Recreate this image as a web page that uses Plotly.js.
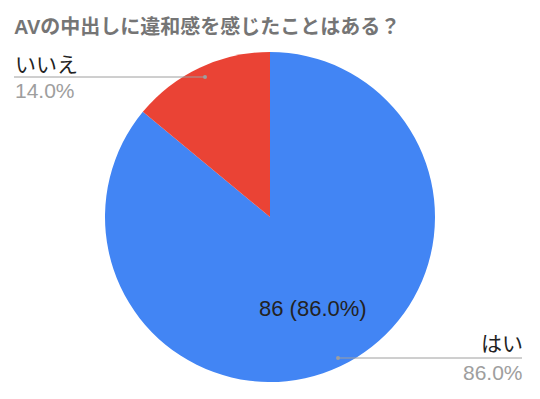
<!DOCTYPE html>
<html><head><meta charset="utf-8">
<script src="https://cdn.plot.ly/plotly-3.0.1.min.js"></script>
<style>body{margin:0;background:#fff}#chart{width:540px;height:399px}</style>
</head><body><div id="chart"></div>
<script>
const titleText = "AVの中出しに違和感を感じたことはある？";
const labels = ["はい", "いいえ"];
const values = [86, 14];
const colors = ["#4285f4", "#ea4335"];

const total = values.reduce((a,b)=>a+b,0);
const pct = values.map(v => (v/total*100).toFixed(1) + "%");
const font = "Liberation Sans, Arial, 'Noto Sans CJK JP', sans-serif";

const data = [{
  type: "pie",
  labels: labels,
  values: values,
  sort: false,
  direction: "clockwise",
  rotation: 0,
  marker: {colors: colors, line: {color: "#ffffff", width: 0}},
  textinfo: "none",
  hoverinfo: "none",
  domain: {x: [105/540, 435/540], y: [1-382/399, 1-52/399]},
  showlegend: false
}];

const px = x => x/540, py = y => 1 - y/399;
const layout = {
  width: 540, height: 399,
  margin: {l:0, r:0, t:0, b:0},
  paper_bgcolor: "#ffffff",
  title: {text: "<b>" + titleText + "</b>", x: 14/540, xanchor: "left", y: 1-27/399, yanchor: "middle",
          font: {family: font, size: 20, color: "#757575"}},
  shapes: [
    {type:"line", xref:"paper", yref:"paper", x0:px(14), x1:px(205), y0:py(77), y1:py(77), line:{color:"#9e9e9e", width:1}},
    {type:"circle", xref:"paper", yref:"paper", x0:px(203), x1:px(207), y0:py(79), y1:py(75), fillcolor:"#9e9e9e", line:{width:0}},
    {type:"line", xref:"paper", yref:"paper", x0:px(338), x1:px(522), y0:py(358), y1:py(358), line:{color:"#9e9e9e", width:1}},
    {type:"circle", xref:"paper", yref:"paper", x0:px(336), x1:px(340), y0:py(360), y1:py(356), fillcolor:"#9e9e9e", line:{width:0}}
  ],
  annotations: [
    {xref:"paper", yref:"paper", x:px(313), y:py(308), xanchor:"center", yanchor:"middle", showarrow:false,
     text: values[0] + " (" + pct[0] + ")", font:{family:font, size:22, color:"#222222"}},
    {xref:"paper", yref:"paper", x:px(13), y:py(64), xanchor:"left", yanchor:"middle", showarrow:false,
     text: labels[1], font:{family:font, size:21, color:"#222222"}},
    {xref:"paper", yref:"paper", x:px(13), y:py(90), xanchor:"left", yanchor:"middle", showarrow:false,
     text: pct[1], font:{family:font, size:21, color:"#9e9e9e"}},
    {xref:"paper", yref:"paper", x:px(525), y:py(343), xanchor:"right", yanchor:"middle", showarrow:false,
     text: labels[0], font:{family:font, size:21, color:"#222222"}},
    {xref:"paper", yref:"paper", x:px(525), y:py(372), xanchor:"right", yanchor:"middle", showarrow:false,
     text: pct[0], font:{family:font, size:21, color:"#9e9e9e"}}
  ]
};
Plotly.newPlot("chart", data, layout, {displayModeBar:false, staticPlot:true});
</script></body></html>
